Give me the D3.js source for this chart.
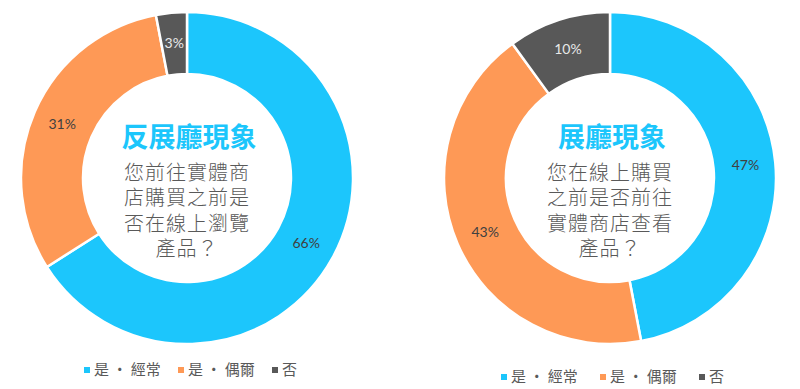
<!DOCTYPE html>
<html>
<head>
<meta charset="utf-8">
<script src="https://cdn.jsdelivr.net/npm/d3@7"></script>
<style>
  body { margin: 0; background: #fff; }
  svg { display: block; }
</style>
</head>
<body>
<div id="chart"></div>
<script>
// data
var categories = ["是 · 經常", "是 · 偶爾", "否"];
var colors = ["#1CC6FC", "#FE9956", "#585858"];
var leftValues = [66, 31, 3];
var rightValues = [47, 43, 10];
var leftTitle = "反展廳現象";
var rightTitle = "展廳現象";
var leftLines = ["您前往實體商", "店購買之前是", "否在線上瀏覽", "產品？"];
var rightLines = ["您在線上購買", "之前是否前往", "實體商店查看", "產品？"];

var W = 800, H = 389;
var cjk = "'Noto Sans CJK TC', 'Noto Sans CJK SC', sans-serif";
var numFont = "'Lato', 'DejaVu Sans', sans-serif";

var svg = d3.select("#chart").append("svg")
  .attr("width", W)
  .attr("height", H);

var pie = d3.pie().sort(null).value(function(d) { return d; });
var arc = d3.arc().innerRadius(104).outerRadius(166);
var labelArc = d3.arc().innerRadius(136).outerRadius(136);

function drawDonut(cx, cy, values, title, lines, legendY, legendX, legendGap) {
  var g = svg.append("g").attr("transform", "translate(" + cx + "," + cy + ")");
  var arcs = pie(values);

  g.selectAll("path.slice")
    .data(arcs)
    .enter().append("path")
    .attr("class", "slice")
    .attr("d", arc)
    .style("fill", function(d, i) { return colors[i]; })
    .style("stroke", "#fff")
    .style("stroke-width", 2.5);

  g.selectAll("text.pct")
    .data(arcs)
    .enter().append("text")
    .attr("class", "pct")
    .attr("transform", function(d) { return "translate(" + labelArc.centroid(d) + ")"; })
    .attr("text-anchor", "middle")
    .attr("dy", "0.35em")
    .style("font-family", numFont)
    .style("font-size", "14px")
    .style("fill", function(d, i) { return i == 2 ? "#e8e8e8" : "#404040"; })
    .text(function(d) { return d.data + "%"; });

  g.append("text")
    .attr("x", 2)
    .attr("y", -40)
    .attr("text-anchor", "middle")
    .attr("dy", "0.35em")
    .style("font-family", cjk)
    .style("font-weight", "bold")
    .style("font-size", "27px")
    .style("fill", "#1CC6FC")
    .text(title);

  // question: one text block, one tspan per line
  var q = g.append("text")
    .attr("text-anchor", "middle")
    .style("font-family", cjk)
    .style("font-weight", 300)
    .style("font-size", "20px")
    .style("letter-spacing", "1px")
    .style("fill", "#595959");
  q.selectAll("tspan")
    .data(lines)
    .enter().append("tspan")
    .attr("x", 0)
    .attr("y", function(d, i) { return -5 + i * 25.3; })
    .attr("dy", "0.35em")
    .text(function(d) { return d; });

  // legend
  var lg = svg.append("g").attr("transform", "translate(" + legendX + "," + legendY + ")");
  var item = lg.selectAll("g.item")
    .data(categories)
    .enter().append("g")
    .attr("class", "item")
    .attr("transform", function(d, i) { return "translate(" + (i * legendGap) + ",0)"; });
  item.append("rect")
    .attr("x", -3).attr("y", -3)
    .attr("width", 6).attr("height", 6)
    .style("fill", function(d, i) { return colors[i]; });
  item.append("text")
    .attr("x", 7)
    .attr("dy", "0.35em")
    .style("font-family", cjk)
    .style("font-size", "15px")
    .style("fill", "#595959")
    .text(function(d) { return d; });
}

drawDonut(187, 178, leftValues, leftTitle, leftLines, 370, 87, 94);
drawDonut(610, 178, rightValues, rightTitle, rightLines, 377, 504, 99);
</script>
</body>
</html>
